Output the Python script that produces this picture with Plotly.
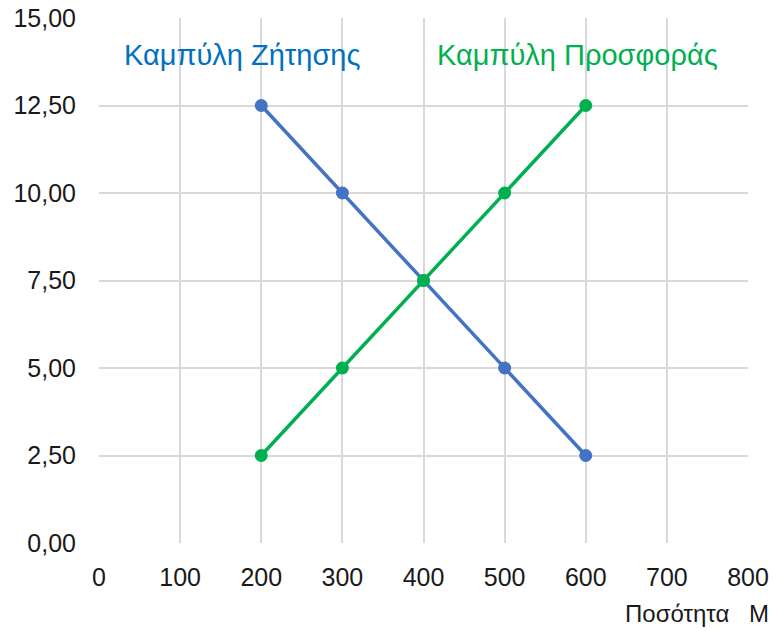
import plotly.graph_objects as go

quantity_demand = [200, 300, 400, 500, 600]
price_demand = [12.5, 10.0, 7.5, 5.0, 2.5]
quantity_supply = [200, 300, 400, 500, 600]
price_supply = [2.5, 5.0, 7.5, 10.0, 12.5]

x_ticks = [0, 100, 200, 300, 400, 500, 600, 700, 800]
y_ticks = [0, 2.5, 5.0, 7.5, 10.0, 12.5, 15.0]

blue = "#4472C4"
green = "#00B050"
font_family = "Liberation Sans, Arial, sans-serif"

fig = go.Figure()
fig.add_trace(go.Scatter(
    x=quantity_demand, y=price_demand, mode="lines+markers",
    line=dict(color=blue, width=3.5), marker=dict(color=blue, size=13),
    name="Καμπύλη Ζήτησης", showlegend=False, cliponaxis=False))
fig.add_trace(go.Scatter(
    x=quantity_supply, y=price_supply, mode="lines+markers",
    line=dict(color=green, width=3.5), marker=dict(color=green, size=13),
    name="Καμπύλη Προσφοράς", showlegend=False, cliponaxis=False))

fig.add_annotation(text="Καμπύλη Ζήτησης", xref="x", yref="y", x=176, y=13.94,
                   showarrow=False, font=dict(color="#0070C0", size=29, family=font_family))
fig.add_annotation(text="Καμπύλη Προσφοράς", xref="x", yref="y", x=590, y=13.94,
                   showarrow=False, font=dict(color=green, size=29, family=font_family))
fig.add_annotation(text="Ποσότητα", xref="paper", yref="paper", x=0.807, y=-0.135,
                   xanchor="left", yanchor="middle", showarrow=False,
                   font=dict(color="#1a1a1a", size=24, family=font_family))
fig.add_annotation(text="Μ", xref="paper", yref="paper", x=1.036, y=-0.135,
                   xanchor="right", yanchor="middle", showarrow=False,
                   font=dict(color="#1a1a1a", size=24, family=font_family))

fig.update_layout(
    width=773, height=631,
    margin=dict(l=99, r=25, t=18, b=88),
    paper_bgcolor="white", plot_bgcolor="white",
    separators=",.",
    font=dict(family=font_family, size=25, color="#1a1a1a"),
    xaxis=dict(range=[0, 800], tickvals=x_ticks, showgrid=True, gridcolor="#d9d9d9",
               gridwidth=1.5, zeroline=False, showline=False, ticks="", ticklabelstandoff=17,
               automargin=False, ticklabeloverflow="allow"),
    yaxis=dict(range=[0, 15], tickvals=y_ticks, tickformat=".2f", showgrid=True,
               gridcolor="#d9d9d9", gridwidth=1.5, zeroline=False, showline=False,
               ticks="", ticklabelstandoff=22, automargin=False, ticklabeloverflow="allow"),
)
fig.write_html(
    "out.html",
    config={"displayModeBar": False},
    post_script="document.body.style.margin='0';document.body.style.overflow='hidden';",
)
